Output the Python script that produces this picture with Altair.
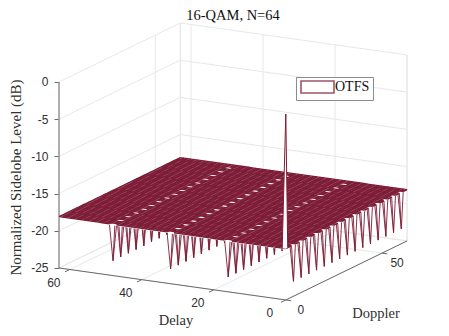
import altair as alt
import pandas as pd

alt.data_transformers.disable_max_rows()

# ---- values ----
delay_grid = list(range(64))
doppler_grid = list(range(64))
floor_level = -18.1
peak_level = 0.0
spike_level = -23.0
spike_delays = [0, 16, 32, 48]
spike_dopplers = [0, 4, 8, 12, 16, 20, 24, 28, 32, 36, 40, 44, 48, 52, 56, 60]
delay_ticks = [0, 20, 40, 60]
doppler_ticks = [0, 50]
level_ticks = [-25, -20, -15, -10, -5, 0]
delay_max = 63
doppler_max = 63

# ---- orthographic view of the box ----
X_DELAY, X_DOPPLER = 3.6, 1.925      # px per unit
Y_DELAY, Y_DOPPLER = 0.508, 0.937    # px per unit
PX_PER_DB = 7.44
PLOT_W, PLOT_H = 380, 304
Y_TOP, Y_BOTTOM = 8.33, -32.53

COLOR = "#7d1c36"
GRID = "#e8e8e8"
AXIS = "#6a6a6a"
SERIF = "Liberation Serif"
SANS = "Liberation Sans"

X_EXPR = f"(({delay_max}-datum.delay)*{X_DELAY}+datum.doppler*{X_DOPPLER})"
OFF_EXPR = f"((datum.doppler*{Y_DOPPLER}-({delay_max}-datum.delay)*{Y_DELAY})/{PX_PER_DB})"
Y_EXPR = f"datum.level===null?null:datum.level+{OFF_EXPR}"
Y0_EXPR = f"datum.base+{OFF_EXPR}"

x_enc = alt.X("px:Q", scale=alt.Scale(domain=[0, PLOT_W], nice=False), axis=None)
y_enc = alt.Y("py:Q", scale=alt.Scale(domain=[Y_BOTTOM, Y_TOP], nice=False, zero=False),
              axis=alt.Axis(values=level_ticks, labelExpr="'' + datum.value", domain=False, grid=False,
                            tickSize=5, tickColor=AXIS, labelFont=SANS, labelFontSize=12,
                            labelColor="#303030", labelPadding=6,
                            title="Normalized Sidelobe Level (dB)", titleFont=SERIF,
                            titleFontSize=15, titleFontWeight="normal", titleColor="#303030",
                            titleX=-36, titleY=157))


def project(chart):
    return chart.transform_calculate(px=X_EXPR, py=Y_EXPR)


spikes = {(d, f) for d in spike_delays for f in spike_dopplers if not (d == 0 and f == 0)}


# ---- surface mesh, with the valley nodes left open ----
def node_level(d, f):
    return None if (d, f) in spikes else floor_level


mesh_rows = []
for d in delay_grid:
    for f in doppler_grid:
        mesh_rows.append({"line": f"a{d}", "delay": d, "doppler": f, "level": node_level(d, f), "series": "OTFS"})
for f in doppler_grid:
    for d in delay_grid:
        mesh_rows.append({"line": f"b{f}", "delay": d, "doppler": f, "level": node_level(d, f), "series": "OTFS"})
mesh = pd.DataFrame(mesh_rows).astype({"level": object})
mesh["level"] = mesh["level"].where(mesh["level"].notna(), None)

# ---- white faces behind the mesh ----
face = pd.DataFrame([
    {"line": f, "delay": d, "doppler": f, "level": floor_level}
    for f in doppler_grid for d in (0, delay_max)
])

# ---- valleys ----
valley_rows = []
for k, (d, f) in enumerate(sorted(spikes)):
    for pd_, pf in ((d - 1, f), (d, f), (d + 1, f)):
        if pd_ >= 0:
            valley_rows.append({"line": f"r{k}", "delay": pd_, "doppler": f,
                                "level": spike_level if (pd_, f) == (d, f) else floor_level})
    for pd_, pf in ((d, f - 1), (d, f), (d, f + 1)):
        if pf >= 0:
            valley_rows.append({"line": f"c{k}", "delay": d, "doppler": pf,
                                "level": spike_level if (d, pf) == (d, f) else floor_level})
valleys = pd.DataFrame(valley_rows)

# ---- main lobe ----
peak = pd.DataFrame([
    {"delay": 1, "doppler": 0, "level": floor_level, "base": floor_level},
    {"delay": 0, "doppler": 0, "level": peak_level, "base": floor_level},
    {"delay": 0, "doppler": 1, "level": floor_level, "base": floor_level},
])

# ---- box grid ----
z_low, z_high = level_ticks[0], level_ticks[-1]
grid_rows, n = [], 0


def seg(rows, a, b):
    global n
    n += 1
    for p in (a, b):
        rows.append({"line": n, "delay": p[0], "doppler": p[1], "level": p[2]})


for z in level_ticks:
    seg(grid_rows, (delay_max, 0, z), (delay_max, doppler_max, z))
    seg(grid_rows, (delay_max, doppler_max, z), (0, doppler_max, z))
for d in delay_ticks + [delay_max]:
    seg(grid_rows, (d, doppler_max, z_low), (d, doppler_max, z_high))
    seg(grid_rows, (d, 0, z_low), (d, doppler_max, z_low))
for f in doppler_ticks + [doppler_max]:
    seg(grid_rows, (delay_max, f, z_low), (delay_max, f, z_high))
    seg(grid_rows, (0, f, z_low), (delay_max, f, z_low))
seg(grid_rows, (0, doppler_max, z_low), (0, doppler_max, z_high))
grid = pd.DataFrame(grid_rows)

axis_rows = []
seg(axis_rows, (delay_max, 0, z_low), (delay_max, 0, z_high))
seg(axis_rows, (delay_max, 0, z_low), (0, 0, z_low))
seg(axis_rows, (0, 0, z_low), (0, doppler_max, z_low))
for d in delay_ticks:
    seg(axis_rows, (d, 0, z_low), (d, -2.5, z_low))
for f in doppler_ticks:
    seg(axis_rows, (0, f, z_low), (-1.5, f, z_low))
axes3d = pd.DataFrame(axis_rows)

delay_labels = pd.DataFrame({"delay": delay_ticks, "doppler": 0, "level": z_low, "t": [str(v) for v in delay_ticks]})
doppler_labels = pd.DataFrame({"delay": 0, "doppler": doppler_ticks, "level": z_low, "t": [str(v) for v in doppler_ticks]})

# ---- layers ----
grid_layer = project(alt.Chart(grid).mark_line(color=GRID, strokeWidth=1)).encode(
    x=x_enc, y=y_enc, detail="line:N")
axis_layer = project(alt.Chart(axes3d).mark_line(color=AXIS, strokeWidth=1)).encode(
    x=x_enc, y=y_enc, detail="line:N")
valley_layer = project(alt.Chart(valleys).mark_line(color=COLOR, strokeWidth=0.9)).encode(
    x=x_enc, y=y_enc, detail="line:N")
face_layer = project(alt.Chart(face).mark_line(color="white", strokeWidth=2)).encode(
    x=x_enc, y=y_enc, detail="line:N")
mesh_layer = project(alt.Chart(mesh).mark_line(strokeWidth=1.3)).encode(
    x=x_enc, y=y_enc, detail="line:N",
    color=alt.Color("series:N",
                    scale=alt.Scale(domain=["OTFS"], range=[COLOR]),
                    legend=alt.Legend(
                        orient="none", legendX=237, legendY=57, title=None,
                        symbolType="M-2.75,-1H2.75V1H-2.75Z", symbolSize=144,
                        symbolOffset=11.5,
                        symbolFillColor="white", symbolStrokeColor=COLOR,
                        symbolStrokeWidth=1.6, symbolOpacity=0.75,
                        labelFont=SERIF, labelFontSize=14, labelColor="#111111",
                        labelOffset=10.5, strokeColor="#8c8c8c", fillColor="white",
                        padding=3)),
)
peak_face = alt.Chart(peak).mark_area(color="white", opacity=1).transform_calculate(
    px=X_EXPR, py=Y_EXPR, py0=Y0_EXPR
).encode(x=x_enc, y=y_enc, y2="py0:Q")
peak_line = project(alt.Chart(peak).mark_line(color=COLOR, strokeWidth=1)).encode(x=x_enc, y=y_enc)


def tick_text(df, dx, dy):
    return project(alt.Chart(df).mark_text(font=SANS, fontSize=12, color="#303030", dx=dx, dy=dy)).encode(
        x=x_enc, y=y_enc, text="t:N")


delay_text = tick_text(delay_labels, -16, 13)
doppler_text = tick_text(doppler_labels, 15, 10)

delay_title = alt.Chart(pd.DataFrame({"t": ["Delay"]})).mark_text(
    font=SERIF, fontSize=14.5, color="#303030").encode(
    x=alt.value(117), y=alt.value(301), text="t:N")
doppler_title = alt.Chart(pd.DataFrame({"t": ["Doppler"]})).mark_text(
    font=SERIF, fontSize=14.5, color="#303030").encode(
    x=alt.value(317), y=alt.value(294), text="t:N")

chart = alt.layer(
    grid_layer, axis_layer, valley_layer, face_layer, mesh_layer, peak_face, peak_line,
    delay_text, doppler_text, delay_title, doppler_title,
).properties(
    width=PLOT_W, height=PLOT_H,
    title=alt.TitleParams("16-QAM, N=64", font=SERIF, fontSize=14.5, fontWeight="normal",
                          color="#111111", anchor="middle", dx=-16, dy=3, offset=0),
    autosize=alt.AutoSizeParams(type="none"),
    padding={"left": 51, "top": 12, "right": 2, "bottom": 4},
).configure_view(stroke=None)

chart.save("out.html", embed_options={"renderer": "svg", "actions": False})
